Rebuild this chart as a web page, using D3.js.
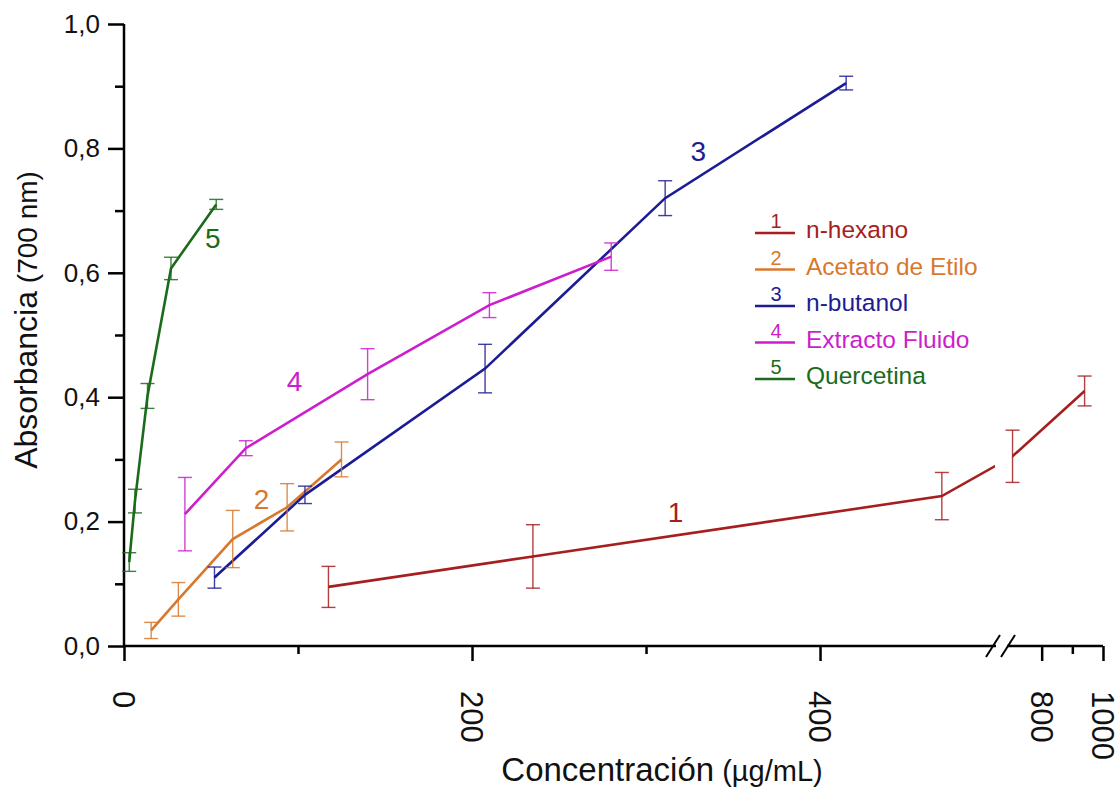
<!DOCTYPE html>
<html>
<head>
<meta charset="utf-8">
<script src="https://cdn.jsdelivr.net/npm/d3@7"></script>
<style>
  body { margin: 0; background: #fff; }
  svg { font-family: "Liberation Sans", Arial, sans-serif; }
</style>
</head>
<body>
<div id="chart"></div>
<script>
// series data (x in µg/mL, y absorbance, err = half bar)
var names = ["n-hexano", "Acetato de Etilo", "n-butanol", "Extracto Fluido", "Quercetina"];
var colors = ["#a61e1e", "#d8782e", "#1c1c94", "#cc1ecc", "#1b6b1b"];

var hexanoX = [117.5, 235, 470, 705, 940];
var hexanoY = [0.095, 0.144, 0.241, 0.305, 0.41];
var hexanoErr = [0.033, 0.051, 0.038, 0.042, 0.024];

var acetatoX = [15.6, 31.25, 62.5, 93.75, 125];
var acetatoY = [0.025, 0.075, 0.172, 0.223, 0.3];
var acetatoErr = [0.013, 0.027, 0.046, 0.038, 0.028];

var butanolX = [52, 104, 207.5, 311, 415];
var butanolY = [0.11, 0.243, 0.446, 0.72, 0.905];
var butanolErr = [0.017, 0.014, 0.039, 0.028, 0.011];

var fluidoX = [35, 70, 140, 210, 280];
var fluidoY = [0.212, 0.318, 0.437, 0.548, 0.626];
var fluidoErr = [0.059, 0.012, 0.041, 0.02, 0.022];

var quercetinaX = [3, 6.3, 13.5, 27, 53];
var quercetinaY = [0.135, 0.233, 0.402, 0.607, 0.71];
var quercetinaErr = [0.015, 0.019, 0.02, 0.018, 0.008];

var yMajor = [0, 0.2, 0.4, 0.6, 0.8, 1.0];
var yMinor = [0.1, 0.3, 0.5, 0.7, 0.9];
var xMajorA = [0, 200, 400];
var xMinorA = [100, 300];
var xMajorB = [800, 1000];
var xMinorB = [900];

// label numbers placed on the curves: [series, x, y] in data units
var curveLabels = [[0, 317, 0.2], [1, 79, 0.22], [2, 330, 0.78], [3, 98, 0.41], [4, 51, 0.64]];

var width = 1119, height = 787;

var y = d3.scaleLinear().domain([0, 1]).range([646, 24]);
// broken x axis: two linear pieces
var xA = d3.scaleLinear().domain([0, 504]).range([124, 1001]);
var xB = d3.scaleLinear().domain([700, 1000]).range([1011, 1103]);
function x(v) { return v < 600 ? xA(v) : xB(v); }

var series = [
  { xs: hexanoX, ys: hexanoY, es: hexanoErr },
  { xs: acetatoX, ys: acetatoY, es: acetatoErr },
  { xs: butanolX, ys: butanolY, es: butanolErr },
  { xs: fluidoX, ys: fluidoY, es: fluidoErr },
  { xs: quercetinaX, ys: quercetinaY, es: quercetinaErr }
].map(function(s, i) {
  return {
    name: names[i],
    color: colors[i],
    points: s.xs.map(function(v, j) { return { x: v, y: s.ys[j], e: s.es[j] }; })
  };
});

var fmt = function(d) { return d3.format(".1f")(d).replace(".", ","); };

var svg = d3.select("#chart").append("svg")
  .attr("width", width)
  .attr("height", height);

// clip that leaves a gap at the axis break
var clip = svg.append("defs").append("clipPath").attr("id", "brk");
clip.append("rect").attr("x", 0).attr("y", 0).attr("width", 995).attr("height", height);
clip.append("rect").attr("x", 1012).attr("y", 0).attr("width", width - 1012).attr("height", height);

// y axis
var yAxis = svg.append("g").attr("transform", "translate(124,0)");
yAxis.append("g")
  .call(d3.axisLeft(y).tickValues(yMajor).tickSize(16).tickPadding(8).tickFormat(fmt))
  .call(function(g) { g.select(".domain").remove(); })
  .call(function(g) {
    g.selectAll("line").attr("stroke", "#000").attr("stroke-width", 2.5);
    g.selectAll("text").attr("font-size", 26).attr("fill", "#111")
      .attr("font-family", "'Liberation Sans', Arial, sans-serif");
  });
yAxis.append("g")
  .call(d3.axisLeft(y).tickValues(yMinor).tickSize(9).tickFormat(""))
  .call(function(g) { g.select(".domain").remove(); })
  .selectAll("line").attr("stroke", "#000").attr("stroke-width", 2.5);
yAxis.append("line")
  .attr("x1", 0).attr("x2", 0)
  .attr("y1", y(1)).attr("y2", y(0) + 1)
  .attr("stroke", "#000").attr("stroke-width", 2.5);

// x axis, two pieces
var xAxis = svg.append("g").attr("transform", "translate(0," + y(0) + ")");

function xTicks(scale, major, minor) {
  xAxis.append("g")
    .call(d3.axisBottom(scale).tickValues(major).tickSize(15).tickFormat(d3.format("d")))
    .call(function(g) { g.select(".domain").remove(); })
    .call(function(g) {
      g.selectAll("line").attr("stroke", "#000").attr("stroke-width", 2.5);
      g.selectAll("text")
        .attr("font-size", 31).attr("fill", "#111")
        .attr("font-family", "'Liberation Sans', Arial, sans-serif")
        .attr("text-anchor", "start")
        .attr("transform", "rotate(90)")
        .attr("x", 45).attr("y", 0).attr("dy", "0.36em");
    });
  xAxis.append("g")
    .call(d3.axisBottom(scale).tickValues(minor).tickSize(8).tickFormat(""))
    .call(function(g) { g.select(".domain").remove(); })
    .selectAll("line").attr("stroke", "#000").attr("stroke-width", 2.5);
}
xTicks(xA, xMajorA, xMinorA);
xTicks(xB, xMajorB, xMinorB);

xAxis.append("line").attr("x1", 124).attr("x2", 996).attr("y1", 0).attr("y2", 0)
  .attr("stroke", "#000").attr("stroke-width", 2.5);
xAxis.append("line").attr("x1", 1007).attr("x2", 1103).attr("y1", 0).attr("y2", 0)
  .attr("stroke", "#000").attr("stroke-width", 2.5);
// break marks
[993, 1008].forEach(function(bx) {
  xAxis.append("line")
    .attr("x1", bx - 7).attr("y1", 11).attr("x2", bx + 7).attr("y2", -11)
    .attr("stroke", "#000").attr("stroke-width", 2);
});

// axis titles
var yt = svg.append("text")
  .attr("transform", "translate(37,320) rotate(-90)")
  .attr("text-anchor", "middle")
  .attr("fill", "#111");
yt.append("tspan").attr("font-size", 32).text("Absorbancia");
yt.append("tspan").attr("font-size", 28).text(" (700 nm)");

var xt = svg.append("text")
  .attr("x", 662).attr("y", 781)
  .attr("text-anchor", "middle")
  .attr("fill", "#111");
xt.append("tspan").attr("font-size", 33).text("Concentración");
xt.append("tspan").attr("font-size", 29).text(" (µg/mL)");

// lines
var line = d3.line()
  .x(function(d) { return x(d.x); })
  .y(function(d) { return y(d.y); });

var plot = svg.append("g");

plot.selectAll(".curve")
  .data(series)
  .enter()
  .append("path")
  .attr("class", "curve")
  .attr("clip-path", "url(#brk)")
  .attr("fill", "none")
  .attr("stroke", function(d) { return d.color; })
  .attr("stroke-width", 2.6)
  .attr("d", function(d) { return line(d.points); });

// error bars
var capW = 7;
series.forEach(function(s) {
  var eb = plot.append("g")
    .attr("stroke", s.color)
    .attr("stroke-width", 1.4)
    .attr("stroke-opacity", 0.85);
  s.points.forEach(function(p) {
    var cx = x(p.x), top = y(p.y + p.e), bot = y(p.y - p.e);
    eb.append("line").attr("x1", cx).attr("x2", cx).attr("y1", top).attr("y2", bot);
    eb.append("line").attr("x1", cx - capW).attr("x2", cx + capW).attr("y1", top).attr("y2", top);
    eb.append("line").attr("x1", cx - capW).attr("x2", cx + capW).attr("y1", bot).attr("y2", bot);
  });
});

// number labels on curves
plot.selectAll(".num")
  .data(curveLabels)
  .enter()
  .append("text")
  .attr("class", "num")
  .attr("x", function(d) { return x(d[1]); })
  .attr("y", function(d) { return y(d[2]); })
  .attr("text-anchor", "middle")
  .attr("font-size", 28)
  .attr("fill", function(d) { return colors[d[0]]; })
  .text(function(d) { return d[0] + 1; });

// legend
var legend = svg.append("g").attr("transform", "translate(755,233)");
var row = legend.selectAll(".row")
  .data(names)
  .enter()
  .append("g")
  .attr("class", "row")
  .attr("transform", function(d, i) { return "translate(0," + (i * 36.5) + ")"; });

row.append("line")
  .attr("x1", 0).attr("x2", 40)
  .attr("stroke", function(d, i) { return colors[i]; })
  .attr("stroke-width", 2.4);
row.append("text")
  .attr("x", 21).attr("y", -5)
  .attr("text-anchor", "middle")
  .attr("font-size", 20)
  .attr("fill", function(d, i) { return colors[i]; })
  .text(function(d, i) { return i + 1; });
row.append("text")
  .attr("x", 51).attr("y", 5)
  .attr("font-size", 24.5)
  .attr("fill", function(d, i) { return colors[i]; })
  .text(function(d) { return d; });
</script>
</body>
</html>
